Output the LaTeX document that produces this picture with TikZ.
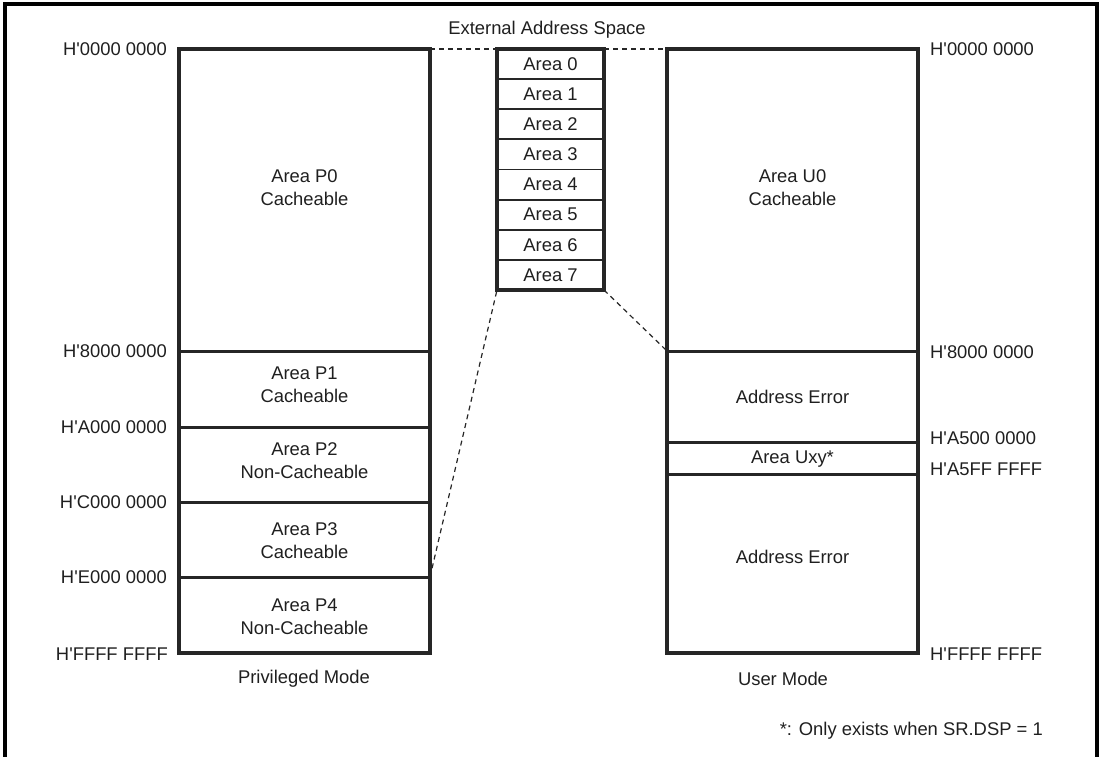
\documentclass[tikz,border=0pt]{standalone}
\usepackage{fontspec}
\setmainfont{Liberation Sans}
\newcommand\apos{\textquotesingle}
\begin{document}
\begin{tikzpicture}[x=1pt,y=-1pt,
  every node/.style={font=\fontsize{18.4}{23}\selectfont, inner sep=0pt, align=center, text=black!88},
  thick box/.style={draw=black!85, line width=3.2pt},
  div/.style={draw=black!85, line width=3pt},
  thin div/.style={draw=black!85, line width=1.9pt},
  dash link/.style={draw=black!85, line width=1.2pt, dash pattern=on 5pt off 4pt},
]
\useasboundingbox (0,0) rectangle (1103,756);
% frame (open at bottom)
\draw[line width=3.4pt] (5,760) -- (5,4) -- (1097,4) -- (1097,760);

% ---- Privileged mode map ----
\coordinate (ptl) at (179,49);
\coordinate (pbr) at (430,653);
\draw[thick box] (ptl) rectangle (pbr);
\coordinate (p1l) at (179,351); \coordinate (p1r) at (430,351);
\coordinate (p2l) at (179,427); \coordinate (p2r) at (430,427);
\coordinate (p3l) at (179,502); \coordinate (p3r) at (430,502);
\coordinate (p4l) at (179,577); \coordinate (p4r) at (430,577);
\draw[div] (p1l) -- (p1r);
\draw[div] (p2l) -- (p2r);
\draw[div] (p3l) -- (p3r);
\draw[div] (p4l) -- (p4r);
\node (P0) at (304.5,188) {Area P0\\Cacheable};
\node (P1) at (304.5,385) {Area P1\\Cacheable};
\node (P2) at (304.5,461) {Area P2\\Non-Cacheable};
\node (P3) at (304.5,541) {Area P3\\Cacheable};
\node (P4) at (304.5,617) {Area P4\\Non-Cacheable};
\node[anchor=east] (la0) at (167,49) {H\apos0000 0000};
\node[anchor=east] (la1) at (167,351) {H\apos8000 0000};
\node[anchor=east] (la2) at (167,427) {H\apos A000 0000};
\node[anchor=east] (la3) at (167,502) {H\apos C000 0000};
\node[anchor=east] (la4) at (167,577) {H\apos E000 0000};
\node[anchor=east] (la5) at (168,654) {H\apos FFFF FFFF};
\node (pm) at (304,679) {Privileged Mode};

% ---- External address space ----
\node (ext) at (547,30) {External Address Space};
\coordinate (etl) at (497,49);
\coordinate (etr) at (604,49);
\coordinate (ebl) at (497,290);
\coordinate (ebr) at (604,290);
\draw[thick box] (etl) rectangle (ebr);
\foreach \i in {1,...,7} {
  \draw[thin div] (497,{49+\i*30.125}) -- (604,{49+\i*30.125});
}
\foreach \i in {0,...,7} {
  \node (A\i) at (550.5,{64+\i*30.125}) {Area \i};
}

% ---- User mode map ----
\coordinate (utl) at (667,49);
\coordinate (utr) at (918,49);
\coordinate (ubr) at (918,653);
\draw[thick box] (utl) rectangle (ubr);
\coordinate (u1l) at (667,351); \coordinate (u1r) at (918,351);
\coordinate (u2l) at (667,442); \coordinate (u2r) at (918,442);
\coordinate (u3l) at (667,474); \coordinate (u3r) at (918,474);
\draw[div] (u1l) -- (u1r);
\draw[div] (u2l) -- (u2r);
\draw[div] (u3l) -- (u3r);
\node (U0) at (792.5,188) {Area U0\\Cacheable};
\node (AE1) at (792.5,397) {Address Error};
\node (UXY) at (792.5,459) {Area Uxy*};
\node (AE2) at (792.5,557) {Address Error};
\node[anchor=west] (ra0) at (930,49) {H\apos0000 0000};
\node[anchor=west] (ra1) at (930,352) {H\apos8000 0000};
\node[anchor=west] (ra2) at (930,438) {H\apos A500 0000};
\node[anchor=west] (ra3) at (930,469) {H\apos A5FF FFFF};
\node[anchor=west] (ra4) at (930,654) {H\apos FFFF FFFF};
\node (um) at (783,679) {User Mode};

% ---- dashed connectors ----
\draw[dash link] (p4r) -- (ebl);
\draw[dash link] (ebr) -- (u1l);
\draw[dash link] (430,49) -- (etl);
\draw[dash link] (etr) -- (utl);

% footnote
\node[anchor=east] (fn) at (1043,731) {*: Only exists when SR.DSP = 1};
\end{tikzpicture}
\end{document}
